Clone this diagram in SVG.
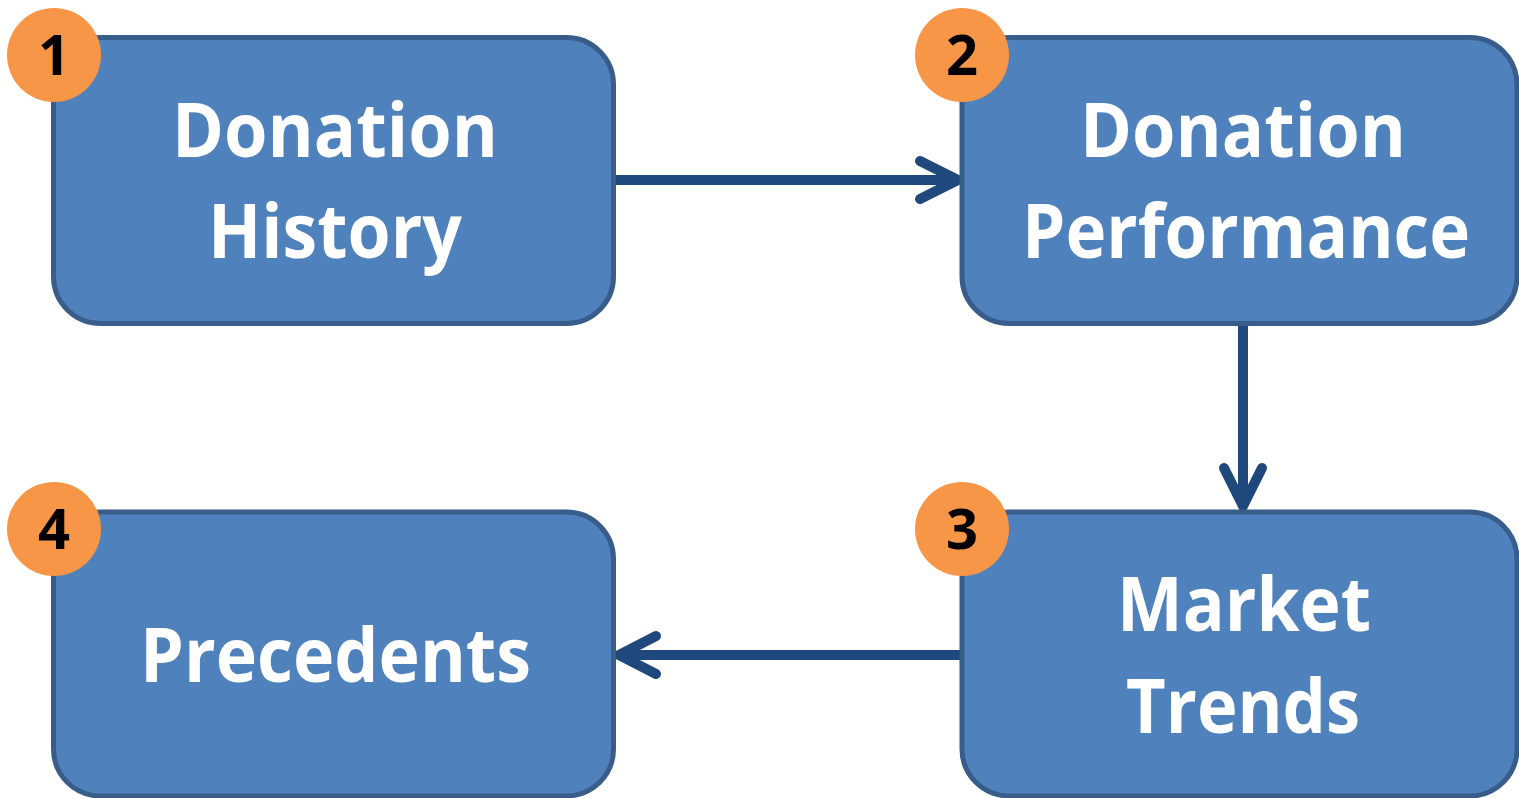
<svg xmlns="http://www.w3.org/2000/svg" width="1519" height="798" viewBox="0 0 1519 798">
<defs>
<style>
.box{fill:#4F81BD;stroke:#385D8A;stroke-width:5}
.lbl{font-family:"Open Sans","Liberation Sans",sans-serif;font-weight:bold;font-size:76px;fill:#FFFFFF;text-anchor:middle}
.badge{fill:#F79646}
.num{font-family:"Open Sans","Liberation Sans",sans-serif;font-weight:bold;font-size:56px;fill:#000000;text-anchor:middle}
.conn{stroke:#1F497D;stroke-width:10;fill:none;stroke-linecap:round;stroke-linejoin:miter}
</style>
</defs>
<rect width="1519" height="798" fill="#FFFFFF"/>
<g id="connectors">
<line class="conn" x1="616" y1="180" x2="956" y2="180" style="stroke-linecap:butt"/>
<polyline class="conn" points="920,161 958,180 920,199"/>
<line class="conn" x1="1243" y1="325" x2="1243" y2="505" style="stroke-linecap:butt"/>
<polyline class="conn" points="1224,468 1243,506 1262,468"/>
<line class="conn" x1="962" y1="655" x2="622" y2="655" style="stroke-linecap:butt"/>
<polyline class="conn" points="656,636 619,655 656,674"/>
</g>
<g id="node1">
<rect class="box" x="53.5" y="37.5" width="560" height="286" rx="47"/>
<text class="lbl" x="335" y="157" textLength="326" lengthAdjust="spacingAndGlyphs">Donation</text>
<text class="lbl" x="335" y="258" textLength="254" lengthAdjust="spacingAndGlyphs">History</text>
<circle class="badge" cx="54" cy="55" r="47"/>
<text class="num" x="54" y="75">1</text>
</g>
<g id="node2">
<rect class="box" x="962" y="37.5" width="555" height="286" rx="47"/>
<text class="lbl" x="1243" y="157" textLength="326" lengthAdjust="spacingAndGlyphs">Donation</text>
<text class="lbl" x="1246" y="258" textLength="448" lengthAdjust="spacingAndGlyphs">Performance</text>
<circle class="badge" cx="962" cy="55" r="47"/>
<text class="num" x="962" y="75">2</text>
</g>
<g id="node3">
<rect class="box" x="962" y="512" width="555" height="284" rx="47"/>
<text class="lbl" x="1244" y="631" textLength="254" lengthAdjust="spacingAndGlyphs">Market</text>
<text class="lbl" x="1243" y="733" textLength="234" lengthAdjust="spacingAndGlyphs">Trends</text>
<circle class="badge" cx="962" cy="529" r="47"/>
<text class="num" x="962" y="549">3</text>
</g>
<g id="node4">
<rect class="box" x="53.5" y="512" width="560" height="284" rx="47"/>
<text class="lbl" x="335.5" y="682" textLength="391" lengthAdjust="spacingAndGlyphs">Precedents</text>
<circle class="badge" cx="54" cy="529" r="47"/>
<text class="num" x="54" y="549">4</text>
</g>
</svg>
